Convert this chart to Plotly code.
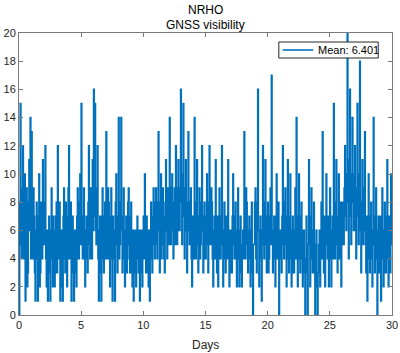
import plotly.graph_objects as go

# GNSS visibility, rows = days 0..29.
# vis_rows: samples at d + 0.0, 0.1, ... 0.9 ; vis_mid_rows: samples at d + 0.05, 0.15, ... 0.95
vis_rows = [
    [0, 15, 4, 12, 6, 1, 9, 3, 11, 14],
    [13, 4, 7, 1, 8, 1, 10, 3, 6, 11],
    [5, 12, 2, 1, 7, 1, 9, 2, 6, 3],
    [8, 12, 4, 1, 6, 1, 9, 3, 7, 4],
    [12, 5, 1, 7, 1, 6, 2, 9, 4, 10],
    [15, 4, 9, 2, 7, 3, 12, 4, 8, 11],
    [16, 15, 5, 12, 1, 7, 1, 9, 3, 8],
    [13, 4, 8, 2, 9, 1, 6, 1, 10, 3],
    [14, 5, 14, 3, 9, 2, 7, 4, 9, 3],
    [8, 2, 1, 6, 2, 7, 3, 1, 6, 2],
    [7, 10, 3, 6, 2, 1, 8, 3, 9, 4],
    [9, 4, 13, 3, 10, 5, 7, 3, 11, 4],
    [8, 14, 5, 10, 4, 9, 12, 5, 11, 6],
    [16, 5, 15, 4, 11, 3, 13, 5, 9, 2],
    [7, 14, 4, 11, 3, 9, 5, 12, 3, 8],
    [4, 10, 3, 12, 5, 8, 2, 7, 11, 3],
    [2, 9, 4, 12, 2, 8, 3, 7, 11, 2],
    [6, 3, 10, 4, 8, 2, 9, 2, 7, 2],
    [6, 13, 4, 8, 3, 7, 2, 8, 0, 5],
    [9, 3, 16, 2, 7, 1, 12, 4, 11, 3],
    [8, 4, 9, 17, 3, 7, 2, 10, 5, 0],
    [6, 3, 12, 4, 9, 2, 11, 3, 10, 2],
    [7, 3, 9, 14, 2, 10, 3, 8, 2, 6],
    [0, 7, 0, 11, 2, 9, 3, 8, 0, 6],
    [0, 5, 2, 8, 13, 3, 2, 10, 4, 2],
    [9, 2, 7, 15, 4, 11, 3, 10, 5, 2],
    [8, 5, 12, 6, 20, 4, 16, 5, 14, 6],
    [12, 4, 15, 5, 18, 3, 11, 6, 13, 3],
    [1, 10, 3, 8, 2, 14, 3, 9, 0, 7],
    [4, 1, 9, 2, 8, 3, 11, 2, 6, 10],
]
vis_mid_rows = [
    [8, 5, 9, 4, 10, 7, 2, 8, 6, 4],
    [5, 9, 3, 6, 4, 7, 2, 8, 4, 6],
    [8, 4, 6, 5, 3, 6, 4, 7, 2, 7],
    [3, 5, 8, 6, 2, 7, 4, 8, 2, 9],
    [4, 8, 5, 3, 6, 3, 7, 4, 8, 5],
    [5, 7, 4, 6, 4, 8, 5, 9, 4, 6],
    [7, 6, 9, 4, 6, 3, 7, 4, 7, 4],
    [6, 9, 4, 7, 4, 7, 4, 8, 5, 7],
    [4, 8, 6, 7, 4, 6, 3, 8, 5, 7],
    [3, 6, 5, 3, 6, 4, 6, 5, 3, 6],
    [4, 5, 7, 3, 6, 5, 4, 7, 5, 8],
    [5, 8, 6, 8, 4, 9, 4, 8, 6, 9],
    [5, 7, 9, 6, 8, 5, 7, 9, 6, 9],
    [8, 10, 7, 9, 6, 8, 6, 8, 4, 7],
    [4, 7, 8, 5, 7, 4, 8, 6, 7, 4],
    [7, 5, 8, 5, 9, 4, 6, 4, 5, 7],
    [6, 4, 7, 5, 6, 4, 7, 4, 5, 6],
    [3, 7, 5, 7, 4, 6, 4, 6, 3, 5],
    [4, 7, 9, 5, 6, 4, 6, 3, 5, 8],
    [4, 8, 6, 6, 4, 6, 5, 8, 5, 7],
    [3, 7, 5, 6, 6, 4, 7, 4, 8, 4],
    [4, 7, 5, 8, 5, 7, 4, 7, 4, 6],
    [3, 6, 4, 6, 7, 4, 7, 4, 6, 3],
    [4, 3, 5, 6, 7, 4, 6, 3, 5, 2],
    [3, 6, 5, 4, 6, 7, 6, 5, 7, 6],
    [4, 6, 4, 7, 8, 5, 7, 4, 8, 6],
    [5, 9, 7, 10, 8, 11, 7, 10, 8, 10],
    [6, 9, 7, 10, 6, 8, 5, 9, 5, 7],
    [5, 4, 7, 4, 6, 5, 7, 4, 6, 3],
    [7, 5, 4, 6, 3, 7, 4, 7, 3, 5],
]
vis_last = [7]

visibility = []
for main_row, mid_row in zip(vis_rows, vis_mid_rows):
    for a, b in zip(main_row, mid_row):
        visibility += [a, b]
visibility += vis_last
days = [i / 20 for i in range(len(visibility))]

x_ticks = [0, 5, 10, 15, 20, 25, 30]
y_ticks = [0, 2, 4, 6, 8, 10, 12, 14, 16, 18, 20]
legend_label = "Mean: 6.401"
title_line1 = "NRHO"
title_line2 = "GNSS visibility"
x_label = "Days"

FONT = "Liberation Sans, Arial, Helvetica, sans-serif"
AX = "#262626"
BLUE = "#0072BD"

# plot area in pixels: x 19..398, y 33..315
L, R, T, B = 19, 398, 33, 315
PW, PH = R - L, B - T


def px(xp):
    return (xp - L) / PW


def py(yp):
    return 1 - (yp - T) / PH


fig = go.Figure()
fig.add_trace(go.Scatter(
    x=days, y=visibility, mode="lines", name=legend_label,
    line=dict(color=BLUE, width=1.6, shape="hv"), showlegend=False,
))

axis_common = dict(
    showgrid=False, zeroline=False, showline=True, linecolor="#7a7a7a", linewidth=1,
    mirror="ticks", ticks="inside", ticklen=4, tickcolor="#7a7a7a", tickwidth=1,
    tickfont=dict(family=FONT, size=11, color=AX), ticklabeloverflow="allow",
)
fig.update_xaxes(range=[0, 30], tickvals=x_ticks, **axis_common)
fig.update_yaxes(range=[0, 20], tickvals=y_ticks, **axis_common)

# legend box drawn by hand to match the compact MATLAB legend
shapes = [
    dict(type="rect", xref="paper", yref="paper", x0=px(283), x1=px(384), y0=py(58), y1=py(42),
         line=dict(color="#262626", width=1), fillcolor="white", layer="above"),
    dict(type="line", xref="paper", yref="paper", x0=px(287), x1=px(318), y0=py(50), y1=py(50),
         line=dict(color=BLUE, width=1.6), layer="above"),
]

fig.update_layout(
    width=400, height=353,
    margin=dict(l=L, r=400 - R, t=T, b=353 - B),
    paper_bgcolor="white", plot_bgcolor="white",
    font=dict(family=FONT, size=11, color=AX),
    showlegend=False,
    shapes=shapes,
    annotations=[
        dict(text=title_line1, xref="paper", yref="paper", x=0.5, y=py(10),
             xanchor="center", yanchor="middle", showarrow=False,
             font=dict(family=FONT, size=12, color="#000000")),
        dict(text=title_line2, xref="paper", yref="paper", x=0.5, y=py(25),
             xanchor="center", yanchor="middle", showarrow=False,
             font=dict(family=FONT, size=12, color="#000000")),
        dict(text=x_label, xref="paper", yref="paper", x=0.5, y=py(345),
             xanchor="center", yanchor="middle", showarrow=False,
             font=dict(family=FONT, size=12, color=AX)),
        dict(text=legend_label, xref="paper", yref="paper", x=px(321), y=py(50),
             xanchor="left", yanchor="middle", showarrow=False,
             font=dict(family=FONT, size=11, color="#000000")),
    ],
)

fig.write_html("out.html")
